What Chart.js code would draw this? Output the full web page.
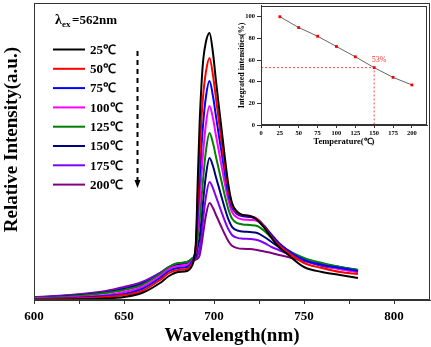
<!DOCTYPE html>
<html>
<head>
<meta charset="utf-8">
<script src="https://cdn.jsdelivr.net/npm/chart.js@4.4.1/dist/chart.umd.min.js"></script>
<style>
  body { margin: 0; background: #fff; }
  #wrap { position: relative; width: 431px; height: 347px; }
  #main { position: absolute; left: 0; top: 0; }
  #inset { position: absolute; left: 222px; top: 0; }
</style>
</head>
<body>
<div id="wrap">
  <canvas id="main" width="431" height="347"></canvas>
  <canvas id="inset" width="209" height="150"></canvas>
</div>
<script>
// ===== datos del espectro =====
const wavelengths = [600, 620, 640, 650, 660, 670, 675, 680, 685, 688, 689, 690, 691, 692, 693, 694, 695.5, 697.5, 699.5, 701, 702.5, 704, 706, 708, 710, 713, 716, 720, 724, 728, 732, 736, 740, 750, 760, 770, 780];
const temps = ['25℃', '50℃', '75℃', '100℃', '125℃', '150℃', '175℃', '200℃'];
const colores = ['#000000', '#ff0000', '#0000ff', '#ff00ff', '#008000', '#000080', '#8000ff', '#800080'];

const t25  = [0, 0.5, 1.5, 3, 7, 17, 24, 28, 29, 35, 42, 60, 121, 176, 214, 240, 258, 267, 246, 221, 197, 174, 143, 115, 97, 88, 85, 84, 80, 72, 62, 53, 47, 33, 28, 25, 22];
const t50  = [0.5, 1.5, 3, 5, 9, 20, 27, 30, 31, 37, 42, 56.5, 103, 145, 180, 205, 228, 242, 224, 203, 182, 161, 135, 111, 95, 87, 85, 84, 81, 73, 63, 55, 49, 37, 32, 28, 26];
const t75  = [1, 2, 4, 6, 11, 22, 29, 32, 33, 39, 43, 54, 88.5, 121, 152, 177, 203, 219, 203, 185, 167, 150, 127, 106, 92.5, 85.7, 83.7, 83, 81, 74, 65, 57, 51, 40, 35, 32, 29];
const t100 = [1.5, 2.5, 5, 8, 13, 24, 31, 34, 35, 40, 42.6, 50.3, 74.5, 98, 125, 148, 176, 194, 181, 165.5, 150.7, 136, 116.5, 99.4, 88, 82.3, 80.6, 80, 79, 73, 65, 57, 51, 40, 35, 31, 28];
const t125 = [2, 3.5, 7, 10, 15, 26, 33, 37, 38, 42, 43.5, 48.4, 63.3, 79, 100.4, 121.8, 148.8, 167, 156.4, 144, 132, 120, 104.4, 90.6, 81.4, 76.8, 75.5, 75, 74, 69, 62, 56, 51, 42, 37, 33, 30];
const t150 = [2, 4, 7.5, 11, 16, 26, 33, 36, 38, 41, 41.8, 44.6, 53, 62.7, 79.4, 99.3, 124.5, 142, 133.5, 123.5, 113.9, 104.3, 91.7, 80.6, 73.2, 69.5, 68.4, 68, 67, 63, 58, 53, 49, 41, 36, 33, 30];
const t175 = [2.5, 4.5, 8, 12, 17, 27, 33, 36, 37, 40, 40.3, 41.6, 45.5, 51, 64.5, 81.2, 102.9, 118, 111.4, 103.8, 96.3, 88.9, 79.2, 70.7, 65, 62.1, 61.3, 61, 60, 57, 53, 50, 47, 40, 35, 32, 29];
const t200 = [3, 5, 9, 13, 18, 27, 32, 36, 37, 40, 40, 40.6, 41.7, 44.6, 54.3, 66.8, 84.5, 97, 91.7, 85.5, 79.5, 73.5, 65.7, 58.8, 54.2, 51.9, 51.2, 51, 50, 48.5, 47, 45, 43.5, 39, 34, 31, 28];
const series = [t25, t50, t75, t100, t125, t150, t175, t200];

// ===== datos del recuadro =====
const insetTemps = [25, 50, 75, 100, 125, 150, 175, 200];
const insetValues = [100, 90, 82, 72.5, 63, 53, 44, 37];
const markTemp = 150;
const markValue = 53;

const FONT = "'Liberation Serif', 'Times New Roman', serif";

// marco alrededor del area
const marco = {
    id: 'marco',
    afterDraw(chart) {
        const a = chart.chartArea;
        const ctx = chart.ctx;
        ctx.save();
        ctx.strokeStyle = '#333';
        ctx.lineWidth = 1;
        ctx.strokeRect(Math.round(a.left) + 0.5, Math.round(a.top) + 0.5, Math.round(a.right - a.left) - 1, Math.round(a.bottom - a.top) - 1);
        ctx.restore();
    }
};

// leyenda a mano + flecha
const leyenda = {
    id: 'leyenda',
    afterDraw(chart) {
        const ctx = chart.ctx;
        ctx.save();
        // lambda ex
        ctx.fillStyle = '#000';
        ctx.textBaseline = 'alphabetic';
        ctx.font = 'bold 14px ' + FONT;
        ctx.fillText('λ', 55, 24);
        ctx.font = 'bold 9px ' + FONT;
        ctx.fillText('ex', 62, 27);
        ctx.font = 'bold 13px ' + FONT;
        ctx.fillText('=562nm', 72, 24);

        chart.data.datasets.forEach((ds, i) => {
            const y = 49.5 + i * 19.3;
            ctx.strokeStyle = ds.borderColor;
            ctx.lineWidth = 2;
            ctx.beginPath();
            ctx.moveTo(53, y);
            ctx.lineTo(85, y);
            ctx.stroke();
            ctx.fillStyle = '#000';
            ctx.font = 'bold 13px ' + FONT;
            ctx.textBaseline = 'middle';
            ctx.fillText(ds.label, 90, y + 1);
        });

        // flecha punteada
        ctx.strokeStyle = '#000';
        ctx.lineWidth = 2;
        ctx.setLineDash([5, 4]);
        ctx.beginPath();
        ctx.moveTo(137.5, 51);
        ctx.lineTo(137.5, 180);
        ctx.stroke();
        ctx.setLineDash([]);
        ctx.fillStyle = '#000';
        ctx.beginPath();
        ctx.moveTo(134.5, 180);
        ctx.lineTo(140.5, 180);
        ctx.lineTo(137.5, 188);
        ctx.closePath();
        ctx.fill();
        ctx.restore();
    }
};

new Chart(document.getElementById('main'), {
    type: 'line',
    data: {
        datasets: series.map((vals, i) => ({
            label: temps[i],
            data: vals.map((v, j) => ({ x: wavelengths[j], y: v })),
            borderColor: colores[i],
            backgroundColor: colores[i],
            borderWidth: 2,
            pointRadius: 0,
            cubicInterpolationMode: 'monotone',
            fill: false
        }))
    },
    options: {
        responsive: false,
        animation: false,
        devicePixelRatio: 1,
        layout: { padding: { top: 3, right: 1, left: 0, bottom: 0 } },
        plugins: { legend: { display: false }, tooltip: { enabled: false } },
        scales: {
            x: {
                type: 'linear',
                min: 600,
                max: 820,
                afterFit(s) { s.height = 47; },
                grid: { drawOnChartArea: false, tickLength: 4, color: '#333' },
                border: { color: '#333' },
                ticks: {
                    stepSize: 25,
                    includeBounds: false,
                    padding: 5,
                    color: '#000',
                    font: { family: FONT, size: 13, weight: 'bold' },
                    callback: v => (v % 50 === 0 ? v : '')
                },
                title: {
                    display: true,
                    text: 'Wavelength(nm)',
                    color: '#000',
                    padding: { top: 0, bottom: 0 },
                    font: { family: FONT, size: 19, weight: 'bold' }
                }
            },
            y: {
                min: 0,
                max: 297,
                afterFit(s) { s.width = 34; },
                grid: { display: false },
                border: { color: '#333' },
                ticks: { display: false },
                title: {
                    display: true,
                    // espacios al inicio para subir un poco el texto
                    text: '     Relative Intensity(a.u.)',
                    color: '#000',
                    padding: { top: 1, bottom: 0 },
                    font: { family: FONT, size: 19, weight: 'bold' }
                }
            }
        }
    },
    plugins: [marco, leyenda]
});

// etiqueta 53%
const etiqueta = {
    id: 'etiqueta',
    afterDraw(chart) {
        const ctx = chart.ctx;
        const px = chart.scales.x.getPixelForValue(markTemp);
        const py = chart.scales.y.getPixelForValue(markValue);
        ctx.save();
        ctx.fillStyle = '#ff3333';
        ctx.font = '8px ' + FONT;
        ctx.textAlign = 'center';
        ctx.textBaseline = 'middle';
        ctx.fillText(markValue + '%', px + 5, py - 8);
        ctx.restore();
    }
};

new Chart(document.getElementById('inset'), {
    type: 'line',
    data: {
        datasets: [
            {
                data: insetTemps.map((t, i) => ({ x: t, y: insetValues[i] })),
                borderColor: '#666',
                borderWidth: 1,
                pointStyle: 'rect',
                pointRadius: 2,
                pointBackgroundColor: '#ff0000',
                pointBorderWidth: 0,
                tension: 0
            },
            {
                data: [{ x: 0, y: markValue }, { x: markTemp, y: markValue }, { x: markTemp, y: 0 }],
                borderColor: '#ff4444',
                borderWidth: 1,
                borderDash: [2, 2],
                pointRadius: 0,
                tension: 0
            }
        ]
    },
    options: {
        responsive: false,
        animation: false,
        devicePixelRatio: 1,
        layout: { padding: { top: 2, right: 1, left: 0, bottom: 0 } },
        plugins: { legend: { display: false }, tooltip: { enabled: false } },
        scales: {
            x: {
                type: 'linear',
                min: 0,
                max: 220,
                afterFit(s) { s.height = 25; },
                grid: { drawOnChartArea: false, tickLength: 3, color: '#333' },
                border: { color: '#333' },
                ticks: {
                    stepSize: 25,
                    includeBounds: false,
                    padding: 1,
                    maxRotation: 0,
                    autoSkip: false,
                    color: '#000',
                    font: { family: FONT, size: 6.5, weight: 'bold' }
                },
                title: {
                    display: true,
                    text: 'Temperature(℃)',
                    color: '#000',
                    padding: { top: 0, bottom: 3 },
                    font: { family: FONT, size: 8.5, weight: 'bold' }
                }
            },
            y: {
                min: 0,
                max: 110,
                afterFit(s) { s.width = 39; },
                grid: { drawOnChartArea: false, tickLength: 4, color: '#333' },
                border: { color: '#333' },
                ticks: {
                    stepSize: 20,
                    includeBounds: false,
                    padding: 2,
                    color: '#000',
                    font: { family: FONT, size: 6.5, weight: 'bold' }
                },
                title: {
                    display: true,
                    text: 'Integrated intensities(%)',
                    color: '#000',
                    padding: { top: 15, bottom: 0 },
                    font: { family: FONT, size: 8, weight: 'bold' }
                }
            }
        }
    },
    plugins: [marco, etiqueta]
});
</script>
</body>
</html>
